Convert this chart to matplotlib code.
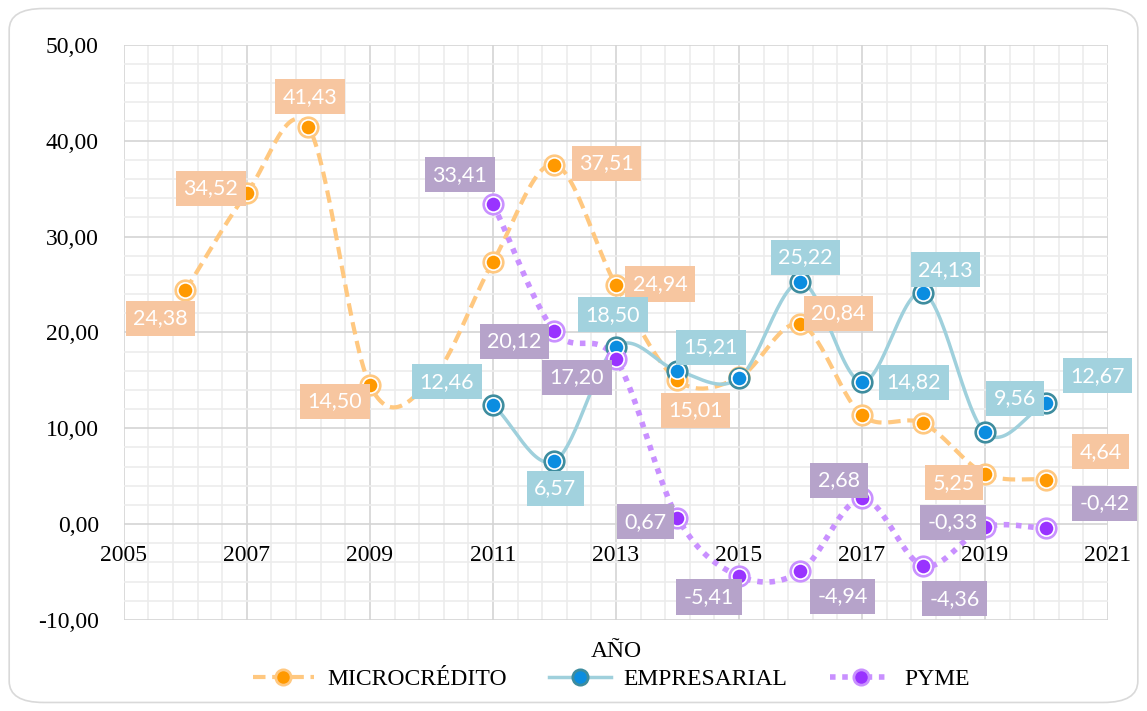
import numpy as np
import matplotlib.pyplot as plt
from matplotlib.lines import Line2D
from matplotlib.patches import FancyBboxPatch
from matplotlib.ticker import MultipleLocator, FuncFormatter

# Datos ----------------------------------------------------------
anios_micro = [2006, 2007, 2008, 2009, 2010, 2011, 2012, 2013, 2014, 2015, 2016, 2017, 2018, 2019, 2020]
microcredito = [24.38, 34.52, 41.43, 14.50, 15.05, 27.35, 37.51, 24.94, 15.01, 15.30, 20.84, 11.35, 10.50, 5.25, 4.64]
etiq_micro = ['24,38', '34,52', '41,43', '14,50', None, None, '37,51', '24,94', '15,01', None, '20,84', None, None, '5,25', '4,64']

anios_emp = [2011, 2012, 2013, 2014, 2015, 2016, 2017, 2018, 2019, 2020]
empresarial = [12.46, 6.57, 18.50, 16.00, 15.21, 25.22, 14.82, 24.13, 9.56, 12.67]
etiq_emp = ['12,46', '6,57', '18,50', None, '15,21', '25,22', '14,82', '24,13', '9,56', '12,67']

anios_pyme = [2011, 2012, 2013, 2014, 2015, 2016, 2017, 2018, 2019, 2020]
pyme = [33.41, 20.12, 17.20, 0.67, -5.41, -4.94, 2.68, -4.36, -0.33, -0.42]
etiq_pyme = ['33,41', '20,12', '17,20', '0,67', '-5,41', '-4,94', '2,68', '-4,36', '-0,33', '-0,42']

# desplazamientos de las etiquetas (pixeles)
off_micro = [(-25, -28), (-36, 5), (2, 30), (-35, -16), None, None, (52, 1), (44, 1), (18, -30), None,
             (38, 11), None, None, (-31, -9), (54, 28)]
off_emp = [(-46, 23), (1, -27), (-3, 32), None, (-28, 31), (5, 25), (52, 0), (22, 23), (30, 34), (51, 27)]
off_pyme = [(-33, 29), (-40, -10), (-39, -18), (-32, -4), (-30, -21), (42, -25), (-23, 18), (31, -33),
            (-32, 5), (58, 25)]


def suave(x, y, n=30):
    # curva tipo Catmull-Rom para el suavizado de Excel
    x = np.asarray(x, float)
    y = np.asarray(y, float)
    px = np.concatenate([[2 * x[0] - x[1]], x, [2 * x[-1] - x[-2]]])
    py = np.concatenate([[2 * y[0] - y[1]], y, [2 * y[-1] - y[-2]]])
    xs, ys = [], []
    t = np.linspace(0, 1, n)
    for i in range(1, len(px) - 2):
        for arr, out in ((px, xs), (py, ys)):
            p0, p1, p2, p3 = arr[i - 1], arr[i], arr[i + 1], arr[i + 2]
            out.extend(0.5 * ((2 * p1) + (-p0 + p2) * t + (2 * p0 - 5 * p1 + 4 * p2 - p3) * t ** 2
                              + (-p0 + 3 * p1 - 3 * p2 + p3) * t ** 3))
    return np.array(xs), np.array(ys)


fig = plt.figure(figsize=(11.47, 7.11), dpi=100)
ax = fig.add_axes([0.108, 0.128, 0.858, 0.809])

series = [
    (anios_micro, microcredito, etiq_micro, off_micro, 'MICROCRÉDITO',
     dict(color='#ffc880', ls=(0, (3, 1.6)), lw=3), '#ff9900', '#ffc880', '#f7c6a0'),
    (anios_emp, empresarial, etiq_emp, off_emp, 'EMPRESARIAL',
     dict(color='#9fd0dc', ls='-', lw=2.5), '#0b8de0', '#3d8c9e', '#a2d2de'),
    (anios_pyme, pyme, etiq_pyme, off_pyme, 'PYME',
     dict(color='#c990ff', ls=(0, (1, 1.2)), lw=4), '#9933ff', '#c990ff', '#b6a3ca'),
]

handles = []
for xs, ys, etiq, offs, nombre, estilo, cfill, cring, cbox in series:
    sx, sy = suave(xs, ys)
    ax.plot(sx, sy, zorder=3, **estilo)
    ax.plot(xs, ys, 'o', ms=15, mfc=cring, mec=cring, zorder=4)
    ax.plot(xs, ys, 'o', ms=11, mfc=cfill, mec='white', mew=1.2, zorder=5)
    for x, y, t, o in zip(xs, ys, etiq, offs):
        if t is None:
            continue
        ax.annotate(t, (x, y), xytext=o, textcoords='offset pixels', ha='center', va='center',
                    color='white', fontsize=15.5, family='Lato', zorder=6,
                    bbox=dict(boxstyle='square,pad=0.35', fc=cbox, ec='none'))
    handles.append(Line2D([], [], marker='o', ms=11, mfc=cfill, mec=cring, mew=2, label=nombre, **estilo))

ax.set_xlim(2005, 2021)
ax.set_ylim(-10, 50)
ax.xaxis.set_major_locator(MultipleLocator(2, offset=1))
ax.xaxis.set_minor_locator(MultipleLocator(0.4, offset=0.2))
ax.yaxis.set_major_locator(MultipleLocator(10))
ax.yaxis.set_minor_locator(MultipleLocator(2))
ax.grid(which='major', color='#d4d4d4', lw=1.2, zorder=0)
ax.grid(which='minor', color='#ececec', lw=1.2, zorder=0)
ax.set_axisbelow(True)
for s in ax.spines.values():
    s.set_visible(False)
ax.spines['bottom'].set_position(('data', 0))
ax.tick_params(which='both', length=0)
ax.tick_params(axis='x', pad=15)
ax.tick_params(axis='y', pad=18)
ax.yaxis.set_major_formatter(FuncFormatter(lambda v, p: f'{v:.2f}'.replace('.', ',')))
for lb in ax.get_xticklabels() + ax.get_yticklabels():
    lb.set_family('Liberation Serif')
    lb.set_fontsize(17)

fig.text(0.537, 0.083, 'AÑO', ha='center', va='center', family='Liberation Serif', fontsize=17)
fig.legend(handles=handles, loc='center', bbox_to_anchor=(0.533, 0.044), ncol=3, frameon=False,
           prop=dict(family='Liberation Serif', size=17), handlelength=2.6, handletextpad=0.55,
           columnspacing=1.8)

fig.patches.append(FancyBboxPatch((0.008, 0.012), 0.984, 0.976, boxstyle='round,pad=0,rounding_size=0.03',
                                  transform=fig.transFigure, fc='none', ec='#d9d9d9', lw=1.2))

fig.savefig('out.png', dpi=100)
